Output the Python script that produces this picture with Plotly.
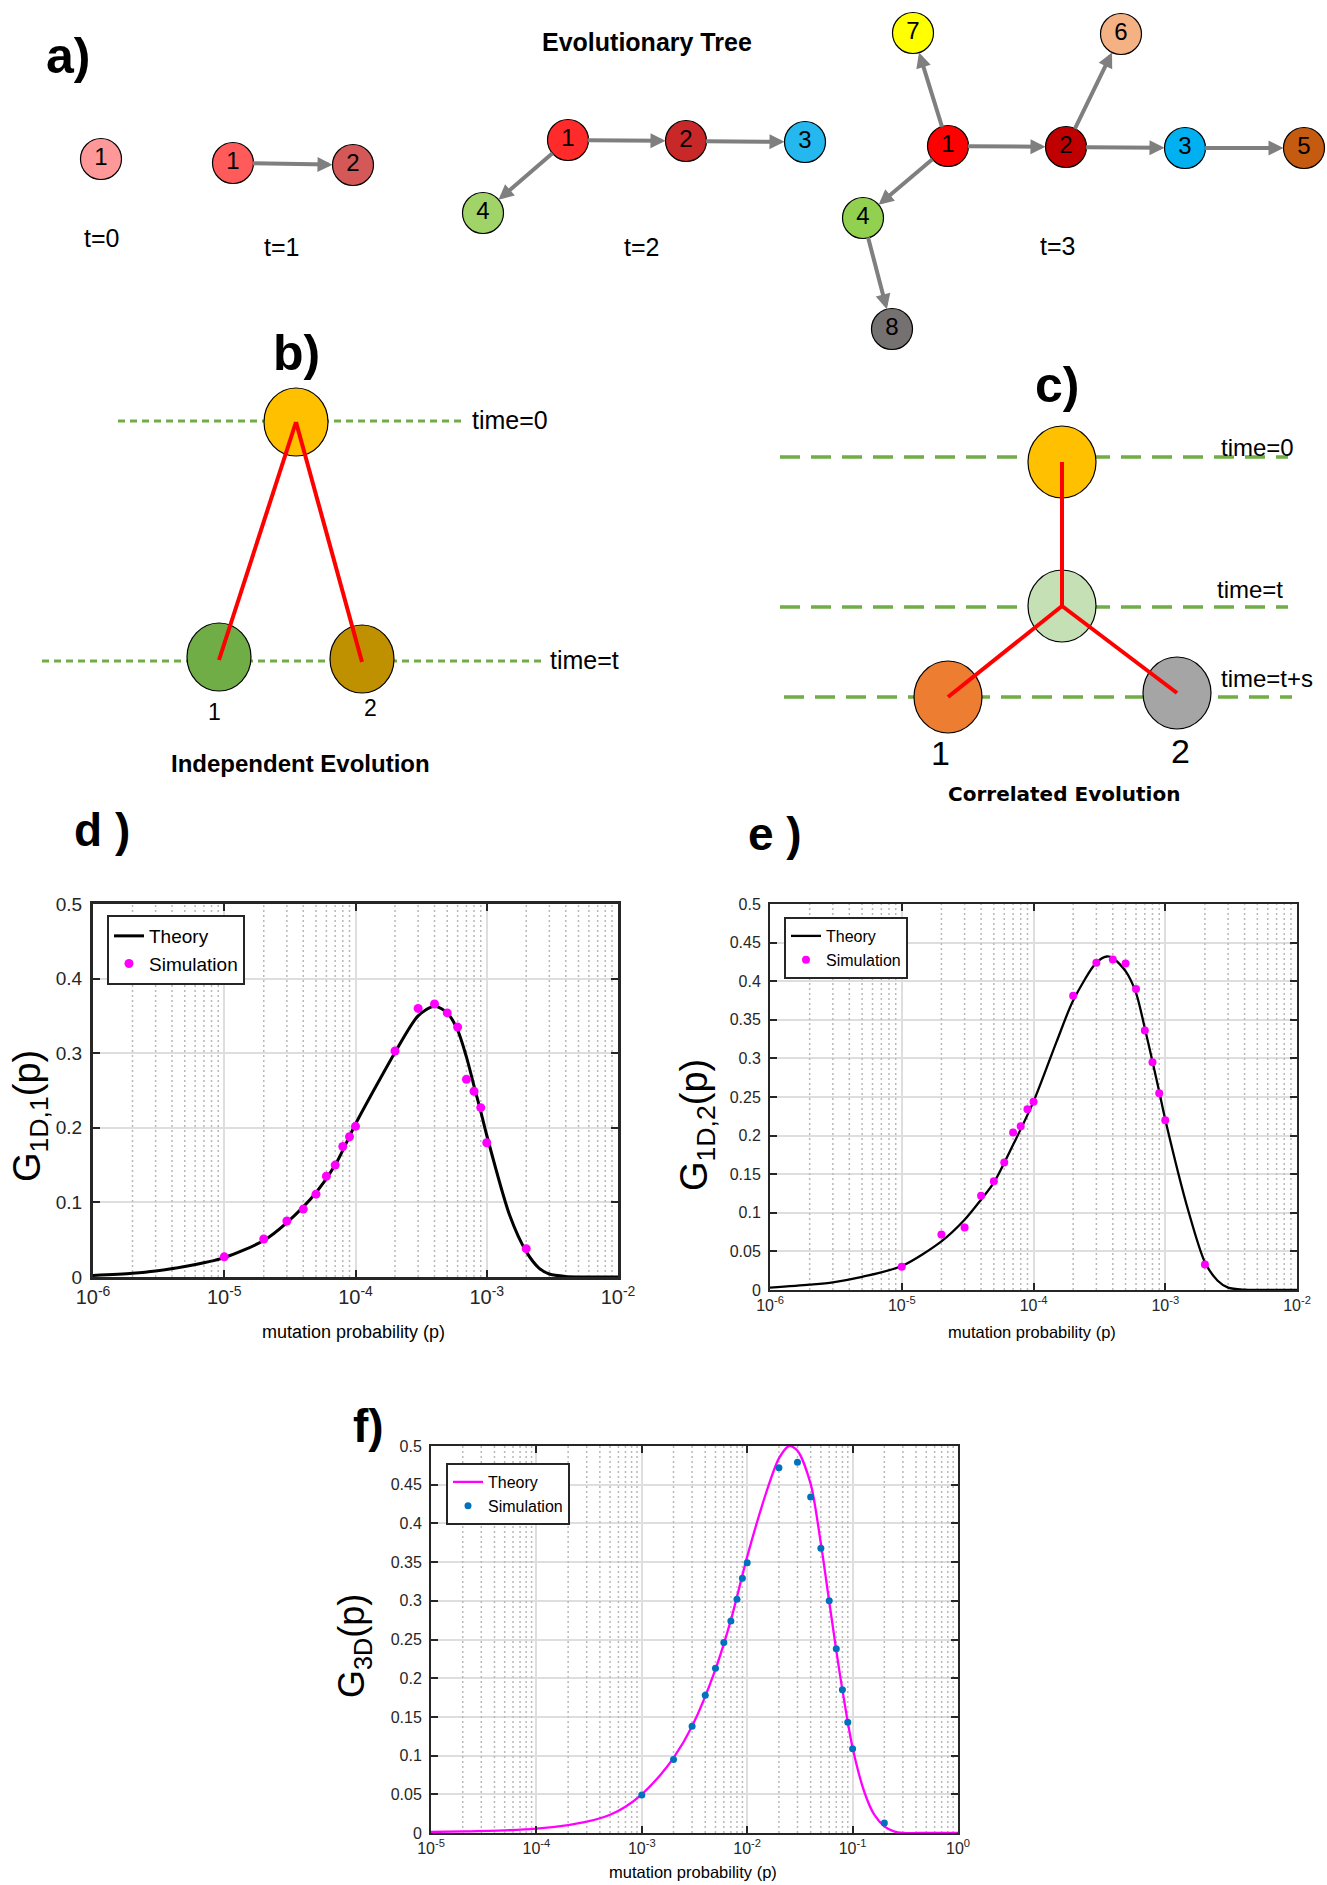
import math
import plotly.graph_objects as go

W, H = 1327, 1885
FONT = "Liberation Sans, Arial, Helvetica, sans-serif"
INK = "#262626"

# ---------------- (a) evolutionary tree snapshots ----------------
tree_ids = ["1", "1", "2", "1", "2", "3", "4", "1", "2", "3", "4", "5", "6", "7", "8"]
tree_x = [101, 233, 353, 568, 686, 805, 483, 948, 1066, 1185, 863, 1304, 1121, 913, 892]
tree_y = [159, 163, 165, 140, 141, 142, 213, 146, 147, 148, 218, 148, 34, 33, 329]
tree_colors = ["#FF9999", "#FF5B5B", "#D45858", "#FF2A2A", "#C82828", "#25B8EE", "#A0D468",
               "#FF0000", "#C00000", "#00B0F0", "#92D050", "#C55A11", "#F4B183", "#FFFF00", "#767171"]
# parent -> child (indices into the node lists)
tree_edges = [(1, 2), (3, 4), (4, 5), (3, 6),
              (7, 13), (7, 8), (7, 10), (8, 12), (8, 9), (9, 11), (10, 14)]
tree_radius = 20.5
time_labels = ["t=0", "t=1", "t=2", "t=3"]
time_label_x = [101, 281, 641, 1057]
time_label_y = [238, 247, 247, 246]

# ---------------- (b) independent evolution ----------------
b_node_x = [296, 219, 362]
b_node_y = [422, 657, 659]
b_node_colors = ["#FFC000", "#70AD47", "#BF9000"]
b_branches = [(0, 1), (0, 2)]
b_levels = [(118, 466, 421), (42, 542, 661)]          # x0, x1, y
b_level_text = ["time=0", "time=t"]
b_level_text_x = [470, 548]
b_leaf_labels = ["1", "2"]
b_leaf_label_x = [214, 370]
b_leaf_label_y = [712, 708]

# ---------------- (c) correlated evolution ----------------
c_node_x = [1062, 1062, 948, 1177]
c_node_y = [462, 606, 697, 693]
c_node_colors = ["#FFC000", "#C5E0B4", "#ED7D31", "#A5A5A5"]
c_branches = [(0, 1), (1, 2), (1, 3)]
c_levels = [(780, 1288, 457), (780, 1288, 607), (784, 1292, 697)]
c_level_text = ["time=0", "time=t", "time=t+s"]
c_level_text_x = [1219, 1215, 1219]
c_level_text_y = [447, 589, 678]
c_leaf_labels = ["1", "2"]
c_leaf_label_x = [940, 1180]
c_leaf_label_y = [753, 751]

# ---------------- (d) G_1D,1(p) ----------------
d_theory_p = [1e-6, 2e-6, 3e-6, 5e-6, 1e-5, 2e-5, 3e-5, 5e-5, 7e-5, 1e-4, 1.5e-4, 2e-4, 3e-4,
              4e-4, 5e-4, 6e-4, 7e-4, 8e-4, 9e-4, 1e-3, 1.5e-3, 2e-3, 2.5e-3, 3e-3, 4e-3, 5e-3, 1e-2]
d_theory_g = [0.002, 0.005, 0.008, 0.014, 0.026, 0.049, 0.073, 0.113, 0.150, 0.205, 0.262, 0.301, 0.350,
              0.363, 0.354, 0.331, 0.295, 0.256, 0.222, 0.190, 0.082, 0.034, 0.012, 0.004, 0.0006, 0.0, 0.0]
d_sim_p = [1e-5, 2e-5, 3e-5, 4e-5, 5e-5, 6e-5, 7e-5, 8e-5, 9e-5, 1e-4,
           2e-4, 3e-4, 4e-4, 5e-4, 6e-4, 7e-4, 8e-4, 9e-4, 1e-3, 2e-3]
d_sim_g = [0.027, 0.051, 0.075, 0.091, 0.111, 0.135, 0.150, 0.175, 0.188, 0.202,
           0.303, 0.360, 0.366, 0.354, 0.335, 0.265, 0.249, 0.227, 0.180, 0.038]

# ---------------- (e) G_1D,2(p) ----------------
e_theory_p = [1e-6, 2e-6, 3e-6, 5e-6, 1e-5, 2e-5, 3e-5, 4e-5, 5e-5, 7e-5, 1e-4, 1.5e-4, 2e-4, 3e-4,
              3.6e-4, 4e-4, 5e-4, 6e-4, 7e-4, 8e-4, 9e-4, 1e-3, 1.5e-3, 2e-3, 2.5e-3, 3e-3, 4e-3, 5e-3, 1e-2]
e_theory_g = [0.003, 0.007, 0.010, 0.017, 0.031, 0.063, 0.091, 0.117, 0.139, 0.188, 0.244, 0.322, 0.375, 0.424,
              0.432, 0.430, 0.413, 0.385, 0.339, 0.296, 0.257, 0.221, 0.102, 0.036, 0.012, 0.003, 0.0003, 0.0, 0.0]
e_sim_p = [1e-5, 2e-5, 3e-5, 4e-5, 5e-5, 6e-5, 7e-5, 8e-5, 9e-5, 1e-4,
           2e-4, 3e-4, 4e-4, 5e-4, 6e-4, 7e-4, 8e-4, 9e-4, 1e-3, 2e-3]
e_sim_g = [0.030, 0.072, 0.081, 0.122, 0.141, 0.165, 0.204, 0.212, 0.234, 0.244,
           0.381, 0.424, 0.428, 0.423, 0.390, 0.336, 0.295, 0.255, 0.220, 0.033]

# ---------------- (f) G_3D(p) ----------------
f_theory_p = [1e-5, 2e-5, 5e-5, 1e-4, 2e-4, 3e-4, 5e-4, 7e-4, 1e-3, 1.5e-3, 2e-3, 3e-3, 5e-3, 7e-3,
              1e-2, 1.5e-2, 2e-2, 2.5e-2, 3e-2, 4e-2, 5e-2, 6e-2, 7e-2, 8e-2, 0.1, 0.13, 0.16, 0.2,
              0.25, 0.3, 0.5, 1.0]
f_theory_g = [0.0013, 0.002, 0.0034, 0.0056, 0.0103, 0.0146, 0.0236, 0.034, 0.050, 0.075, 0.097, 0.138,
              0.2115, 0.275, 0.357, 0.438, 0.484, 0.500, 0.494, 0.451, 0.374, 0.299, 0.236, 0.185, 0.110,
              0.052, 0.024, 0.0086, 0.0017, 0.0002, 0.0, 0.0]
f_sim_p = [1e-3, 2e-3, 3e-3, 4e-3, 5e-3, 6e-3, 7e-3, 8e-3, 9e-3, 1e-2,
           2e-2, 3e-2, 4e-2, 5e-2, 6e-2, 7e-2, 8e-2, 9e-2, 0.1, 0.2]
f_sim_g = [0.049, 0.095, 0.138, 0.178, 0.213, 0.246, 0.274, 0.302, 0.329, 0.349,
           0.472, 0.479, 0.434, 0.368, 0.300, 0.238, 0.185, 0.143, 0.109, 0.013]

d_decades = [1e-6, 1e-5, 1e-4, 1e-3, 1e-2]
f_decades = [1e-5, 1e-4, 1e-3, 1e-2, 1e-1, 1.0]

panel_tags = ["a)", "b)", "c)", "d )", "e )", "f)"]
panel_tag_x = [68, 296, 1057, 102, 775, 368]
panel_tag_y = [56, 353, 385, 830, 834, 1426]


def exp10(v):
    return int(round(math.log10(v)))


def minor_grid(decades, xa, ya):
    """Dotted vertical lines at 2..9 x each decade of a log axis."""
    xs, ys = [], []
    for d in decades[:-1]:
        for m in range(2, 10):
            xs += [m * d, m * d, None]
            ys += [0, 0.5, None]
    return go.Scatter(x=xs, y=ys, mode="lines", xaxis=xa, yaxis=ya, showlegend=False,
                      hoverinfo="skip", line=dict(color="#B8B8B8", width=1.5, dash="2px,3px"))


fig = go.Figure()

# dotted minor grids (underneath the curves)
fig.add_trace(minor_grid(d_decades, "x", "y"))
fig.add_trace(minor_grid(d_decades, "x2", "y2"))
fig.add_trace(minor_grid(f_decades, "x3", "y3"))

# ---------- curve panels ----------
fig.add_trace(go.Scatter(x=d_theory_p, y=d_theory_g, mode="lines", name="Theory",
                         line=dict(color="black", width=3, shape="spline", smoothing=0.8),
                         xaxis="x", yaxis="y", legend="legend"))
fig.add_trace(go.Scatter(x=d_sim_p, y=d_sim_g, mode="markers", name="Simulation",
                         marker=dict(color="#FF00FF", size=9), xaxis="x", yaxis="y", legend="legend"))
fig.add_trace(go.Scatter(x=e_theory_p, y=e_theory_g, mode="lines", name="Theory",
                         line=dict(color="black", width=2.3, shape="spline", smoothing=0.8),
                         xaxis="x2", yaxis="y2", legend="legend2"))
fig.add_trace(go.Scatter(x=e_sim_p, y=e_sim_g, mode="markers", name="Simulation",
                         marker=dict(color="#FF00FF", size=8), xaxis="x2", yaxis="y2", legend="legend2"))
fig.add_trace(go.Scatter(x=f_theory_p, y=f_theory_g, mode="lines", name="Theory",
                         line=dict(color="#FF00FF", width=2.3, shape="spline", smoothing=0.8),
                         xaxis="x3", yaxis="y3", legend="legend3"))
fig.add_trace(go.Scatter(x=f_sim_p, y=f_sim_g, mode="markers", name="Simulation",
                         marker=dict(color="#0072BD", size=7), xaxis="x3", yaxis="y3", legend="legend3"))

# ---------- tree node numbers (overlay axes in page pixels) ----------
fig.add_trace(go.Scatter(x=tree_x, y=tree_y, mode="text", text=tree_ids,
                         textfont=dict(size=24, color="black", family=FONT),
                         xaxis="x4", yaxis="y4", showlegend=False, hoverinfo="skip"))


def px_x(v):
    return v / W


def px_y(v):
    return 1 - v / H


def log_axis(decades, font_size, line_w, dom_x, anchor):
    return dict(
        type="log", domain=dom_x, anchor=anchor,
        range=[exp10(decades[0]), exp10(decades[-1])],
        tickmode="array", tickvals=decades,
        ticktext=["10<sup>%d</sup>" % exp10(d) for d in decades],
        tickfont=dict(size=font_size, color=INK, family=FONT),
        showline=True, linecolor=INK, linewidth=line_w, mirror="ticks",
        ticks="inside", ticklen=7, tickwidth=1.5, tickcolor=INK,
        showgrid=True, gridcolor="#DEDEDE", gridwidth=2,
        zeroline=False, fixedrange=True, automargin=False,
    )


def lin_axis(dtick, font_size, line_w, dom_y, anchor):
    return dict(
        domain=dom_y, anchor=anchor, range=[0, 0.5], dtick=dtick, tick0=0,
        tickfont=dict(size=font_size, color=INK, family=FONT),
        showline=True, linecolor=INK, linewidth=line_w, mirror="ticks",
        ticks="inside", ticklen=7, tickwidth=1.5, tickcolor=INK,
        showgrid=True, gridcolor="#DEDEDE", gridwidth=2,
        zeroline=False, fixedrange=True, ticklabelstandoff=4, automargin=False,
    )


def legend_box(x, y, size):
    return dict(x=px_x(x), y=px_y(y), xanchor="left", yanchor="top",
                bordercolor=INK, borderwidth=2, bgcolor="white",
                font=dict(size=size, color="black", family=FONT), tracegroupgap=0)


fig.update_layout(
    width=W, height=H, autosize=False,
    margin=dict(l=0, r=0, t=0, b=0),
    paper_bgcolor="white", plot_bgcolor="rgba(0,0,0,0)",
    font=dict(family=FONT, color=INK),
    xaxis=log_axis(d_decades, 20, 3, [px_x(93), px_x(618)], "y"),
    yaxis=lin_axis(0.1, 19, 3, [px_y(1277), px_y(904)], "x"),
    xaxis2=log_axis(d_decades, 16, 2, [px_x(770), px_x(1297)], "y2"),
    yaxis2=lin_axis(0.05, 16, 2, [px_y(1290), px_y(904)], "x2"),
    xaxis3=log_axis(f_decades, 16, 2, [px_x(431), px_x(958)], "y3"),
    yaxis3=lin_axis(0.05, 16, 2, [px_y(1833), px_y(1446)], "x3"),
    xaxis4=dict(domain=[0, 1], range=[0, W], visible=False, fixedrange=True,
                anchor="y4", automargin=False),
    yaxis4=dict(domain=[0, 1], range=[H, 0], visible=False, fixedrange=True,
                anchor="x4", automargin=False),
    legend=legend_box(107, 915, 19),
    legend2=legend_box(784, 917, 16),
    legend3=legend_box(446, 1463, 16),
)

shapes = []
annotations = []


def ellipse(cx, cy, rx, ry, color):
    return dict(type="circle", xref="x4", yref="y4", layer="below",
                x0=cx - rx, x1=cx + rx, y0=cy - ry, y1=cy + ry,
                fillcolor=color, line=dict(color="black", width=1.2))


def pix_text(x, y, text, size, bold=False, xanchor="center", family=FONT, angle=0):
    return dict(x=x, y=y, xref="x4", yref="y4", text=("<b>%s</b>" % text) if bold else text,
                showarrow=False, xanchor=xanchor, yanchor="middle", textangle=angle,
                font=dict(size=size, color="black", family=family))


# (a) tree nodes and arrows
for cx, cy, col in zip(tree_x, tree_y, tree_colors):
    shapes.append(ellipse(cx, cy, tree_radius, tree_radius, col))
for src, dst in tree_edges:
    annotations.append(dict(x=tree_x[dst], y=tree_y[dst], ax=tree_x[src], ay=tree_y[src],
                            xref="x4", yref="y4", axref="x4", ayref="y4", text="",
                            showarrow=True, arrowhead=2, arrowsize=0.75, arrowwidth=4,
                            arrowcolor="#7F7F7F", standoff=tree_radius, startstandoff=tree_radius - 2))
for t, x, y in zip(time_labels, time_label_x, time_label_y):
    annotations.append(pix_text(x, y, t, 25))
annotations.append(pix_text(647, 42, "Evolutionary Tree", 25, bold=True))

# (b) independent evolution
for x0, x1, y in b_levels:
    shapes.append(dict(type="line", xref="x4", yref="y4", layer="below", x0=x0, x1=x1, y0=y, y1=y,
                       line=dict(color="#70AD47", width=3, dash="7px,5px")))
for cx, cy, col in zip(b_node_x, b_node_y, b_node_colors):
    shapes.append(ellipse(cx, cy, 32, 34, col))
for a, b in b_branches:
    shapes.append(dict(type="line", xref="x4", yref="y4", layer="below",
                       x0=b_node_x[a], y0=b_node_y[a], x1=b_node_x[b], y1=b_node_y[b] + 3,
                       line=dict(color="#FF0000", width=4)))
for txt, x, lev in zip(b_level_text, b_level_text_x, b_levels):
    annotations.append(pix_text(x, lev[2] - 1, txt, 25, xanchor="left"))
for txt, x, y in zip(b_leaf_labels, b_leaf_label_x, b_leaf_label_y):
    annotations.append(pix_text(x, y, txt, 23))
annotations.append(pix_text(300, 763, "Independent Evolution", 24, bold=True))

# (c) correlated evolution
for x0, x1, y in c_levels:
    shapes.append(dict(type="line", xref="x4", yref="y4", layer="below", x0=x0, x1=x1, y0=y, y1=y,
                       line=dict(color="#70AD47", width=3.5, dash="20px,11px")))
for cx, cy, col in zip(c_node_x, c_node_y, c_node_colors):
    shapes.append(ellipse(cx, cy, 34, 36, col))
for a, b in c_branches:
    shapes.append(dict(type="line", xref="x4", yref="y4", layer="below",
                       x0=c_node_x[a], y0=c_node_y[a], x1=c_node_x[b], y1=c_node_y[b],
                       line=dict(color="#FF0000", width=4)))
for txt, x, y in zip(c_level_text, c_level_text_x, c_level_text_y):
    annotations.append(pix_text(x, y, txt, 24, xanchor="left"))
for txt, x, y in zip(c_leaf_labels, c_leaf_label_x, c_leaf_label_y):
    annotations.append(pix_text(x, y, txt, 34))
annotations.append(pix_text(1064, 794, "Correlated Evolution", 20, bold=True,
                            family="DejaVu Sans, Verdana, sans-serif"))

# panel tags
for tag, x, y in zip(panel_tags, panel_tag_x, panel_tag_y):
    annotations.append(pix_text(x, y, tag, 50 if tag in ("a)", "b)", "c)") else 46, bold=True))

# axis titles
annotations.append(pix_text(30, 1116, "G<sub>1D,1</sub>(p)", 38, angle=-90))
annotations.append(pix_text(697, 1125, "G<sub>1D,2</sub>(p)", 38, angle=-90))
annotations.append(pix_text(354, 1646, "G<sub>3D</sub>(p)", 36, angle=-90))
annotations.append(pix_text(353, 1332, "mutation probability (p)", 18))
annotations.append(pix_text(1032, 1332, "mutation probability (p)", 16.5))
annotations.append(pix_text(693, 1872, "mutation probability (p)", 16.5))

fig.update_layout(shapes=shapes, annotations=annotations)
fig.write_html("out.html")
